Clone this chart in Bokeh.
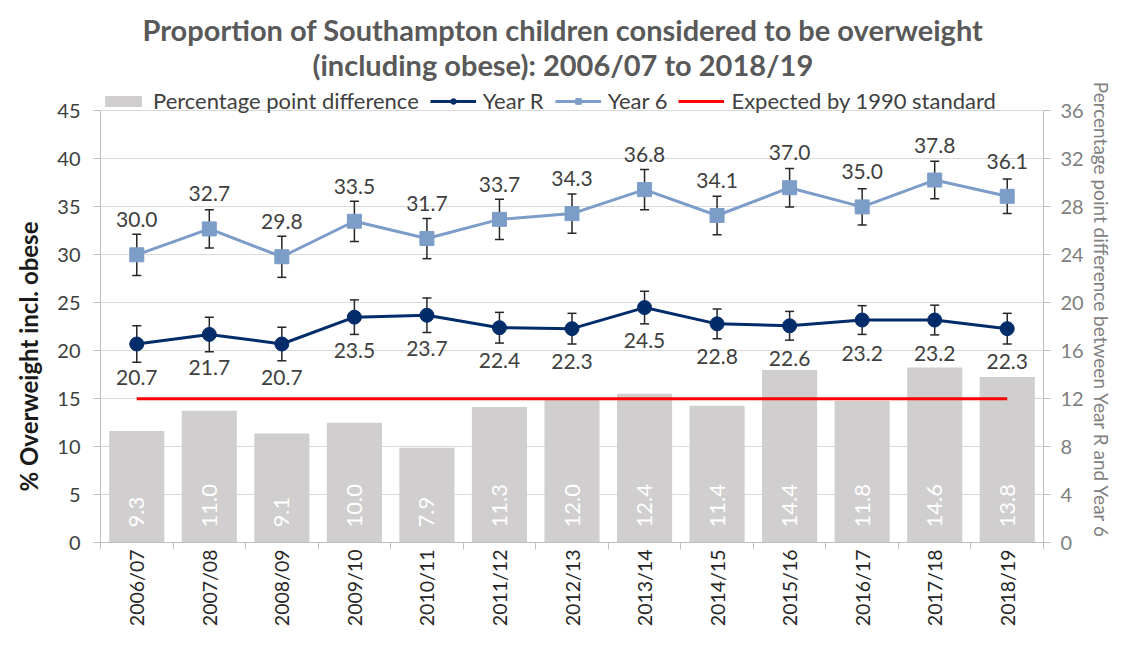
import math
from bokeh.plotting import figure
from bokeh.models import (Range1d, LinearAxis, FixedTicker, Legend, LegendItem, Title)
from bokeh.core.properties import value
from bokeh.embed import file_html
from bokeh.resources import INLINE

# ---------------- data ----------------
years = ["2006/07", "2007/08", "2008/09", "2009/10", "2010/11", "2011/12", "2012/13",
         "2013/14", "2014/15", "2015/16", "2016/17", "2017/18", "2018/19"]
year_r = [20.7, 21.7, 20.7, 23.5, 23.7, 22.4, 22.3, 24.5, 22.8, 22.6, 23.2, 23.2, 22.3]
year_r_err = [1.9, 1.8, 1.75, 1.8, 1.8, 1.6, 1.6, 1.7, 1.55, 1.5, 1.5, 1.55, 1.6]
year_6 = [30.0, 32.7, 29.8, 33.5, 31.7, 33.7, 34.3, 36.8, 34.1, 37.0, 35.0, 37.8, 36.1]
year_6_err = [2.15, 2.0, 2.15, 2.1, 2.1, 2.1, 2.05, 2.1, 2.0, 2.0, 1.9, 1.95, 1.8]
diff = [9.3, 11.0, 9.1, 10.0, 7.9, 11.3, 12.0, 12.4, 11.4, 14.4, 11.8, 14.6, 13.8]
expected = [15.0] * 13
left_ticks = [0, 5, 10, 15, 20, 25, 30, 35, 40, 45]
right_ticks = [0, 4, 8, 12, 16, 20, 24, 28, 32, 36]

TITLE_1 = "Proportion of Southampton children considered to be overweight"
TITLE_2 = "(including obese): 2006/07 to 2018/19"
Y_LABEL = "% Overweight incl. obese"
Y2_LABEL = "Percentage point difference between Year R and Year 6"

FONT = "Lato"
C_R = "#002c6a"
C_6 = "#7c9dc8"
C_BAR = "#d0cece"
C_ERR = "#262626"

n = len(years)
x = [float(i) + 0.5 for i in range(n)]
bounds = [float(i) for i in range(n + 1)]

# layout: frame reaches above the 45 gridline so the legend can sit there
W, H = 1115, 630
B_TOP, B_BOTTOM, B_LEFT, B_RIGHT = 78, 88, 95, 64
BOTTOM_PANEL = B_BOTTOM + 7          # the x-axis panel ends up 7px larger
FRAME_H = H - B_TOP - BOTTOM_PANEL
AXIS_SPAN = FRAME_H - 32             # pixels between 0 and the top tick
Y_MAX, Y2_MAX = left_ticks[-1], right_ticks[-1]
y_end = Y_MAX * FRAME_H / AXIS_SPAN
y2_end = Y2_MAX * FRAME_H / AXIS_SPAN

p = figure(width=W, height=H, x_range=Range1d(0, n), y_range=Range1d(0, y_end),
           output_backend="svg", toolbar_location=None, title=TITLE_1,
           min_border_left=B_LEFT, min_border_right=B_RIGHT,
           min_border_top=B_TOP, min_border_bottom=B_BOTTOM)
p.title.align = "left"
p.title.offset = 42
p.title.text_font = FONT
p.title.text_font_size = "29px"
p.title.text_font_style = "bold"
p.title.text_color = "#595959"
p.title.standoff = 1
t2 = Title(text=TITLE_2, align="left", offset=212, text_font=FONT,
           text_font_size="29px", text_font_style="bold", text_color="#595959",
           standoff=-6)
p.add_layout(t2, "above")

p.extra_y_ranges = {"right": Range1d(0, y2_end)}
p.outline_line_color = None
p.background_fill_color = "white"

# bars (right axis)
bars = p.vbar(x=x, top=diff, width=0.76, y_range_name="right",
              fill_color=C_BAR, line_color=None)
bar_labels = [f"{v:.1f}" for v in diff]
p.text(x=x, y=[0] * n, text=bar_labels, y_range_name="right", angle=math.pi / 2,
       text_align="left", text_baseline="middle", y_offset=-15,
       text_font=value(FONT), text_font_size=value("22px"), text_color="white")

# expected line
red = p.line(x=x, y=expected, line_color="#ff0000", line_width=3)

# error bars
r_lo = [v - e for v, e in zip(year_r, year_r_err)]
r_hi = [v + e for v, e in zip(year_r, year_r_err)]
s_lo = [v - e for v, e in zip(year_6, year_6_err)]
s_hi = [v + e for v, e in zip(year_6, year_6_err)]
for lo, hi in ((r_lo, r_hi), (s_lo, s_hi)):
    p.segment(x0=x, y0=lo, x1=x, y1=hi, line_color=C_ERR, line_width=1.5)
    p.scatter(x=x, y=lo, marker="dash", size=9, line_color=C_ERR, line_width=1.5)
    p.scatter(x=x, y=hi, marker="dash", size=9, line_color=C_ERR, line_width=1.5)

# lines + markers
rl = p.line(x=x, y=year_r, line_color=C_R, line_width=3)
rm = p.scatter(x=x, y=year_r, marker="circle", size=14, fill_color=C_R, line_color=C_R)
sl = p.line(x=x, y=year_6, line_color=C_6, line_width=3)
sm = p.scatter(x=x, y=year_6, marker="square", size=14, fill_color=C_6, line_color=C_6)

# data labels
p.text(x=x, y=year_6, text=[f"{v:.1f}" for v in year_6], text_align="center",
       text_baseline="middle", y_offset=-35, text_font=value(FONT),
       text_font_size=value("21px"), text_color="#404040")
p.text(x=x, y=year_r, text=[f"{v:.1f}" for v in year_r], text_align="center",
       text_baseline="middle", y_offset=33, text_font=value(FONT),
       text_font_size=value("21px"), text_color="#404040")

# axes
p.xaxis.ticker = FixedTicker(ticks=x, minor_ticks=bounds)
p.xaxis.major_label_overrides = {xi: yr for xi, yr in zip(x, years)}
p.xaxis.major_label_orientation = math.pi / 2
p.xaxis.major_tick_line_color = None
p.xaxis.major_tick_out = 7
p.xaxis.major_tick_in = 0
p.xaxis.minor_tick_out = 7
p.xaxis.minor_tick_in = 0
p.xaxis.minor_tick_line_color = "#bfbfbf"
p.xaxis.axis_line_color = "#bfbfbf"
p.xaxis.major_label_standoff = 0
p.xaxis.axis_label_standoff = 0
p.xaxis.major_label_text_font = FONT
p.xaxis.major_label_text_font_size = "19.5px"
p.xaxis.major_label_text_color = "#262626"

p.yaxis.ticker = FixedTicker(ticks=left_ticks)
p.yaxis.bounds = (0, Y_MAX)
p.yaxis.major_tick_out = 7
p.yaxis.major_tick_in = 0
p.yaxis.minor_tick_line_color = None
p.yaxis.major_tick_line_color = "#bfbfbf"
p.yaxis.axis_line_color = "#bfbfbf"
p.yaxis.major_label_standoff = 13
p.yaxis.major_label_text_font = FONT
p.yaxis.major_label_text_font_size = "20px"
p.yaxis.major_label_text_color = "#404040"

# left axis title as a side title, so it can sit a little low like the original
p.add_layout(Title(text=Y_LABEL, align="left", offset=51, text_font=FONT,
                   text_font_size="24px", text_font_style="bold",
                   text_color="#1a1a1a", standoff=23), "left")

ra = LinearAxis(y_range_name="right", ticker=FixedTicker(ticks=right_ticks),
                bounds=(0, Y2_MAX), axis_label=Y2_LABEL)
ra.major_tick_out = 7
ra.major_tick_in = 0
ra.minor_tick_line_color = None
ra.major_tick_line_color = "#bfbfbf"
ra.axis_line_color = "#bfbfbf"
ra.major_label_standoff = 10
ra.major_label_text_font = FONT
ra.major_label_text_font_size = "20px"
ra.major_label_text_color = "#7f7f7f"
ra.axis_label_text_font = FONT
ra.axis_label_text_font_size = "19px"
ra.axis_label_text_font_style = "normal"
ra.axis_label_text_color = "#7f7f7f"
ra.axis_label_standoff = 3
p.add_layout(ra, "right")

p.ygrid.ticker = FixedTicker(ticks=left_ticks)
p.ygrid.grid_line_color = "#d9d9d9"
p.ygrid.grid_line_width = 1
p.xgrid.visible = False

# legend in the strip above the 45 gridline
legend = Legend(items=[
    LegendItem(label="Percentage point difference", renderers=[bars]),
    LegendItem(label="Year R", renderers=[rl, rm]),
    LegendItem(label="Year 6", renderers=[sl, sm]),
    LegendItem(label="Expected by 1990 standard", renderers=[red]),
], orientation="horizontal", location=(0, FRAME_H - 29))
legend.label_text_font = FONT
legend.label_text_font_size = "22px"
legend.label_text_color = "#404040"
legend.label_height = 24
legend.glyph_width = 46
legend.glyph_height = 14
legend.label_standoff = 7
legend.spacing = 11
legend.padding = 2
legend.margin = 0
legend.border_line_color = None
legend.background_fill_alpha = 0
p.add_layout(legend, "center")

open("out.html", "w").write(file_html(p, INLINE))
